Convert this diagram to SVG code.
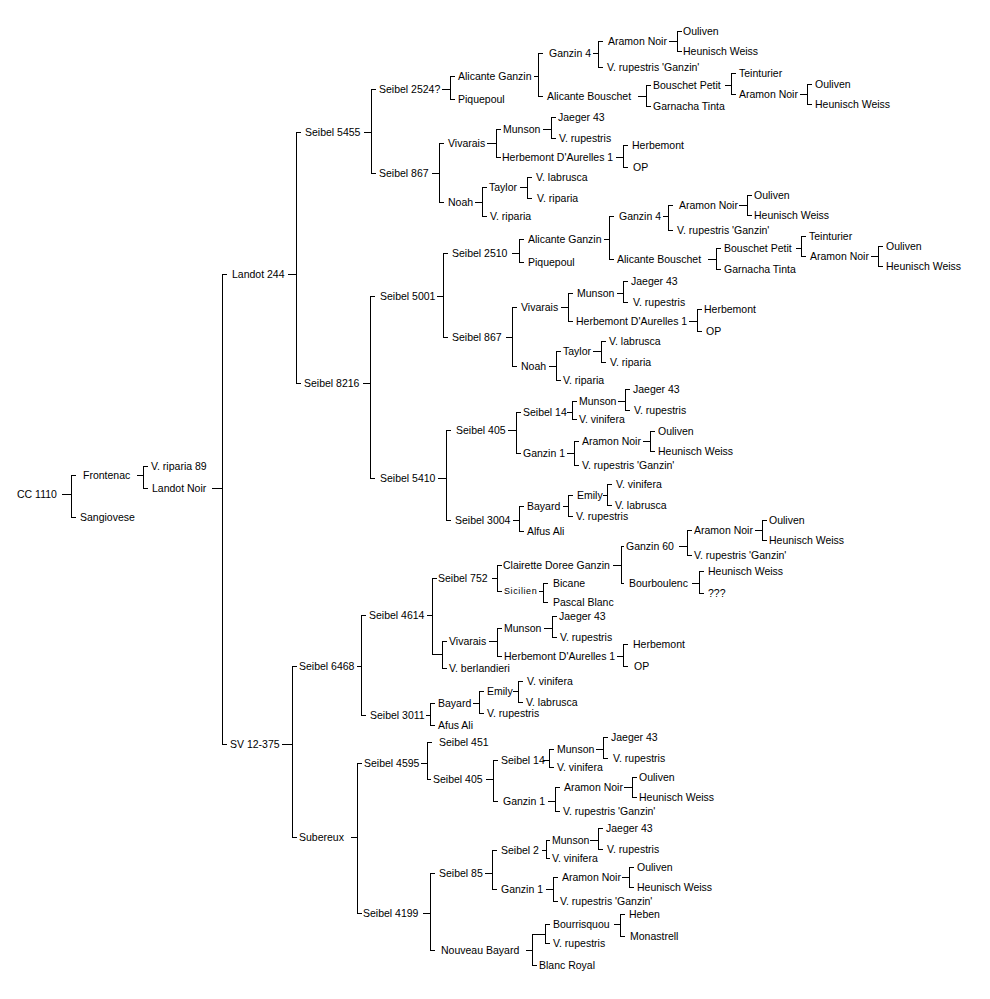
<svg xmlns="http://www.w3.org/2000/svg" width="990" height="999" viewBox="0 0 990 999">
<style>
text{font-family:"Liberation Sans",Arial,sans-serif;font-size:10.5px;fill:#000}
.sm{font-size:9px;letter-spacing:0.6px}
#connectors path{fill:none;stroke:#000;stroke-width:1;shape-rendering:crispEdges}
</style>
<rect width="990" height="999" fill="#fff"/>
<g id="connectors">
<path d="M62,494H71M76,475H71V517H76"/>
<path d="M137,475H143M148,466H143V488H148"/>
<path d="M212,488H222M227,274H222V744H227"/>
<path d="M288,274H296M301,132H296V383H301"/>
<path d="M364,132H371M376,89H371V173H376"/>
<path d="M442,89H450M455,76H450V99H455"/>
<path d="M534,76H538M543,53H538V96H543"/>
<path d="M593,53H598M603,41H598V67H603"/>
<path d="M669,41H677M682,31H677V51H682"/>
<path d="M638,96H646M651,85H646V106H651"/>
<path d="M725,85H731M736,73H731V94H736"/>
<path d="M800,94H807M812,84H807V104H812"/>
<path d="M432,173H439M444,143H439V202H444"/>
<path d="M487,143H496M501,129H496V157H501"/>
<path d="M543,129H551M556,117H551V138H556"/>
<path d="M616,157H623M628,145H623V167H628"/>
<path d="M475,202H482M487,187H482V216H487"/>
<path d="M520,187H527M532,177H527V198H532"/>
<path d="M363,383H370M375,296H370V478H375"/>
<path d="M437,296H443M448,253H443V337H448"/>
<path d="M512,253H519M524,239H519V262H524"/>
<path d="M604,239H609M614,216H609V259H614"/>
<path d="M663,216H668M673,205H668V230H673"/>
<path d="M739,205H747M752,195H747V215H752"/>
<path d="M708,259H716M721,248H716V269H721"/>
<path d="M796,248H801M806,236H801V256H806"/>
<path d="M871,256H878M883,246H878V266H883"/>
<path d="M506,337H512M517,307H512V366H517"/>
<path d="M561,307H568M573,293H568V321H573"/>
<path d="M617,293H623M628,281H623V302H628"/>
<path d="M689,321H697M702,309H697V331H702"/>
<path d="M549,366H556M561,351H556V380H561"/>
<path d="M593,351H601M606,341H601V362H606"/>
<path d="M438,478H446M451,430H446V520H451"/>
<path d="M508,430H516M521,412H516V453H521"/>
<path d="M567,412H572M577,401H572V419H577"/>
<path d="M618,401H625M630,389H625V410H630"/>
<path d="M567,453H574M579,441H574V465H579"/>
<path d="M643,441H650M655,431H650V451H655"/>
<path d="M513,520H519M524,506H519V531H524"/>
<path d="M563,506H568M573,495H568V516H573"/>
<path d="M603,495H607M612,484H607V505H612"/>
<path d="M282,744H292M297,666H292V837H297"/>
<path d="M357,666H361M366,615H361V715H366"/>
<path d="M427,615H432M437,578H432V654H442"/>
<path d="M447,641H442V668H447"/>
<path d="M492,578H497M502,565H497V591H502"/>
<path d="M613,565H621M624,546H621V583H624"/>
<path d="M679,546H687M692,530H687V555H692"/>
<path d="M755,530H762M767,520H762V540H767"/>
<path d="M692,583H699M704,571H699V593H704"/>
<path d="M539,591H543M548,583H543V602H548"/>
<path d="M489,641H497M502,628H497V656H502"/>
<path d="M544,628H552M557,616H552V637H557"/>
<path d="M617,656H623M628,644H623V666H628"/>
<path d="M426,715H430M435,703H430V725H435"/>
<path d="M473,703H479M484,691H479V713H484"/>
<path d="M513,691H518M523,681H518V702H523"/>
<path d="M351,837H357M362,763H357V913H362"/>
<path d="M421,763H427M432,742H427V779H431"/>
<path d="M486,779H493M498,760H493V801H498"/>
<path d="M543,760H549M554,749H549V767H554"/>
<path d="M596,749H603M608,737H603V758H608"/>
<path d="M548,801H555M560,787H555V811H560"/>
<path d="M624,787H632M637,777H632V797H637"/>
<path d="M423,913H430M435,873H430V950H435"/>
<path d="M485,873H492M497,850H492V889H497"/>
<path d="M542,850H546M550,840H546V858H550"/>
<path d="M590,840H598M603,828H598V849H603"/>
<path d="M546,889H553M558,877H553V901H558"/>
<path d="M622,877H629M634,867H629V887H634"/>
<path d="M526,950H532M545,934H532V965H537"/>
<path d="M550,924H545V943H550"/>
<path d="M614,924H620M625,914H620V936H625"/>
</g>
<g id="n-cc1110"><text x="17" y="498">CC 1110</text></g>
<g id="n-frontenac"><text x="83" y="479">Frontenac</text></g>
<g id="n-sangiovese"><text x="80" y="521">Sangiovese</text></g>
<g id="n-vriparia89"><text x="151" y="470">V. riparia 89</text></g>
<g id="n-landotnoir"><text x="152" y="492">Landot Noir</text></g>
<g id="n-landot244"><text x="232" y="278">Landot 244</text></g>
<g id="n-sv12375"><text x="230" y="748">SV 12-375</text></g>
<g id="n-seibel5455"><text x="305" y="136">Seibel 5455</text></g>
<g id="n-seibel2524"><text x="379" y="93">Seibel 2524?</text></g>
<g id="n-alicanteganzin-a"><text x="458" y="80">Alicante Ganzin</text></g>
<g id="n-piquepoul-a"><text x="458" y="103">Piquepoul</text></g>
<g id="n-ganzin4-a"><text x="549" y="57">Ganzin 4</text></g>
<g id="n-aramonnoir-a"><text x="608" y="45">Aramon Noir</text></g>
<g id="n-ouliven-a"><text x="683" y="35">Ouliven</text></g>
<g id="n-heunisch-a"><text x="683" y="55">Heunisch Weiss</text></g>
<g id="n-vrupganzin-a"><text x="607" y="71">V. rupestris 'Ganzin'</text></g>
<g id="n-alicantebouschet-a"><text x="547" y="100">Alicante Bouschet</text></g>
<g id="n-bouschetpetit-a"><text x="653" y="89">Bouschet Petit</text></g>
<g id="n-teinturier-a"><text x="739" y="77">Teinturier</text></g>
<g id="n-aramonnoir-b"><text x="739" y="98">Aramon Noir</text></g>
<g id="n-ouliven-b"><text x="815" y="88">Ouliven</text></g>
<g id="n-heunisch-b"><text x="815" y="108">Heunisch Weiss</text></g>
<g id="n-garnacha-a"><text x="653" y="110">Garnacha Tinta</text></g>
<g id="n-seibel867-a"><text x="379" y="177">Seibel 867</text></g>
<g id="n-vivarais-a"><text x="448" y="147">Vivarais</text></g>
<g id="n-munson-a"><text x="503" y="133">Munson</text></g>
<g id="n-jaeger-a"><text x="558" y="121">Jaeger 43</text></g>
<g id="n-vrup-a"><text x="559" y="142">V. rupestris</text></g>
<g id="n-herbda-a"><text x="502" y="161">Herbemont D'Aurelles 1</text></g>
<g id="n-herbemont-a"><text x="632" y="149">Herbemont</text></g>
<g id="n-op-a"><text x="633" y="171">OP</text></g>
<g id="n-noah-a"><text x="448" y="206">Noah</text></g>
<g id="n-taylor-a"><text x="489" y="191">Taylor</text></g>
<g id="n-vlab-a"><text x="536" y="181">V. labrusca</text></g>
<g id="n-vrip-a"><text x="537" y="202">V. riparia</text></g>
<g id="n-vrip-b"><text x="490" y="220">V. riparia</text></g>
<g id="n-seibel8216"><text x="304" y="387">Seibel 8216</text></g>
<g id="n-seibel5001"><text x="380" y="300">Seibel 5001</text></g>
<g id="n-seibel2510"><text x="452" y="257">Seibel 2510</text></g>
<g id="n-alicanteganzin-b"><text x="528" y="243">Alicante Ganzin</text></g>
<g id="n-piquepoul-b"><text x="528" y="266">Piquepoul</text></g>
<g id="n-ganzin4-b"><text x="619" y="220">Ganzin 4</text></g>
<g id="n-aramonnoir-c"><text x="679" y="209">Aramon Noir</text></g>
<g id="n-ouliven-c"><text x="754" y="199">Ouliven</text></g>
<g id="n-heunisch-c"><text x="754" y="219">Heunisch Weiss</text></g>
<g id="n-vrupganzin-b"><text x="677" y="234">V. rupestris 'Ganzin'</text></g>
<g id="n-alicantebouschet-b"><text x="617" y="263">Alicante Bouschet</text></g>
<g id="n-bouschetpetit-b"><text x="724" y="252">Bouschet Petit</text></g>
<g id="n-teinturier-b"><text x="809" y="240">Teinturier</text></g>
<g id="n-aramonnoir-d"><text x="810" y="260">Aramon Noir</text></g>
<g id="n-ouliven-d"><text x="886" y="250">Ouliven</text></g>
<g id="n-heunisch-d"><text x="886" y="270">Heunisch Weiss</text></g>
<g id="n-garnacha-b"><text x="724" y="273">Garnacha Tinta</text></g>
<g id="n-seibel867-b"><text x="452" y="341">Seibel 867</text></g>
<g id="n-vivarais-b"><text x="521" y="311">Vivarais</text></g>
<g id="n-munson-b"><text x="577" y="297">Munson</text></g>
<g id="n-jaeger-b"><text x="631" y="285">Jaeger 43</text></g>
<g id="n-vrup-b"><text x="633" y="306">V. rupestris</text></g>
<g id="n-herbda-b"><text x="576" y="325">Herbemont D'Aurelles 1</text></g>
<g id="n-herbemont-b"><text x="704" y="313">Herbemont</text></g>
<g id="n-op-b"><text x="706" y="335">OP</text></g>
<g id="n-noah-b"><text x="521" y="370">Noah</text></g>
<g id="n-taylor-b"><text x="563" y="355">Taylor</text></g>
<g id="n-vlab-b"><text x="609" y="345">V. labrusca</text></g>
<g id="n-vrip-c"><text x="610" y="366">V. riparia</text></g>
<g id="n-vrip-d"><text x="563" y="384">V. riparia</text></g>
<g id="n-seibel5410"><text x="380" y="482">Seibel 5410</text></g>
<g id="n-seibel405-a"><text x="456" y="434">Seibel 405</text></g>
<g id="n-seibel14-a"><text x="523" y="416">Seibel 14</text></g>
<g id="n-munson-c"><text x="579" y="405">Munson</text></g>
<g id="n-jaeger-c"><text x="633" y="393">Jaeger 43</text></g>
<g id="n-vrup-c"><text x="634" y="414">V. rupestris</text></g>
<g id="n-vvin-a"><text x="579" y="423">V. vinifera</text></g>
<g id="n-ganzin1-a"><text x="523" y="457">Ganzin 1</text></g>
<g id="n-aramonnoir-e"><text x="582" y="445">Aramon Noir</text></g>
<g id="n-ouliven-e"><text x="658" y="435">Ouliven</text></g>
<g id="n-heunisch-e"><text x="658" y="455">Heunisch Weiss</text></g>
<g id="n-vrupganzin-c"><text x="582" y="469">V. rupestris 'Ganzin'</text></g>
<g id="n-seibel3004"><text x="455" y="524">Seibel 3004</text></g>
<g id="n-bayard-a"><text x="527" y="510">Bayard</text></g>
<g id="n-emily-a"><text x="577" y="499">Emily</text></g>
<g id="n-vvin-b"><text x="616" y="488">V. vinifera</text></g>
<g id="n-vlab-c"><text x="615" y="509">V. labrusca</text></g>
<g id="n-vrup-d"><text x="576" y="520">V. rupestris</text></g>
<g id="n-alfusali-a"><text x="527" y="535">Alfus Ali</text></g>
<g id="n-seibel6468"><text x="299" y="670">Seibel 6468</text></g>
<g id="n-seibel4614"><text x="369" y="619">Seibel 4614</text></g>
<g id="n-seibel752"><text x="438" y="582">Seibel 752</text></g>
<g id="n-clairette"><text x="503" y="569">Clairette Doree Ganzin</text></g>
<g id="n-ganzin60"><text x="626" y="550">Ganzin 60</text></g>
<g id="n-aramonnoir-f"><text x="694" y="534">Aramon Noir</text></g>
<g id="n-ouliven-f"><text x="769" y="524">Ouliven</text></g>
<g id="n-heunisch-f"><text x="769" y="544">Heunisch Weiss</text></g>
<g id="n-vrupganzin-d"><text x="694" y="559">V. rupestris 'Ganzin'</text></g>
<g id="n-bourboulenc"><text x="629" y="587">Bourboulenc</text></g>
<g id="n-heunisch-g"><text x="708" y="575">Heunisch Weiss</text></g>
<g id="n-unknown"><text x="708" y="597">???</text></g>
<g id="n-sicilien"><text class="sm" x="504" y="594">Sicilien</text></g>
<g id="n-bicane"><text x="553" y="587">Bicane</text></g>
<g id="n-pascalblanc"><text x="553" y="606">Pascal Blanc</text></g>
<g id="n-vivarais-c"><text x="449" y="645">Vivarais</text></g>
<g id="n-munson-d"><text x="504" y="632">Munson</text></g>
<g id="n-jaeger-d"><text x="559" y="620">Jaeger 43</text></g>
<g id="n-vrup-e"><text x="560" y="641">V. rupestris</text></g>
<g id="n-herbda-c"><text x="504" y="660">Herbemont D'Aurelles 1</text></g>
<g id="n-herbemont-c"><text x="633" y="648">Herbemont</text></g>
<g id="n-op-c"><text x="634" y="670">OP</text></g>
<g id="n-vberlandieri"><text x="449" y="672">V. berlandieri</text></g>
<g id="n-seibel3011"><text x="370" y="719">Seibel 3011</text></g>
<g id="n-bayard-b"><text x="438" y="707">Bayard</text></g>
<g id="n-emily-b"><text x="487" y="695">Emily</text></g>
<g id="n-vvin-c"><text x="527" y="685">V. vinifera</text></g>
<g id="n-vlab-d"><text x="526" y="706">V. labrusca</text></g>
<g id="n-vrup-f"><text x="487" y="717">V. rupestris</text></g>
<g id="n-alfusali-b"><text x="438" y="729">Afus Ali</text></g>
<g id="n-subereux"><text x="299" y="841">Subereux</text></g>
<g id="n-seibel4595"><text x="364" y="767">Seibel 4595</text></g>
<g id="n-seibel451"><text x="439" y="746">Seibel 451</text></g>
<g id="n-seibel405-b"><text x="433" y="783">Seibel 405</text></g>
<g id="n-seibel14-b"><text x="501" y="764">Seibel 14</text></g>
<g id="n-munson-e"><text x="557" y="753">Munson</text></g>
<g id="n-jaeger-e"><text x="611" y="741">Jaeger 43</text></g>
<g id="n-vrup-g"><text x="613" y="762">V. rupestris</text></g>
<g id="n-vvin-d"><text x="557" y="771">V. vinifera</text></g>
<g id="n-ganzin1-b"><text x="503" y="805">Ganzin 1</text></g>
<g id="n-aramonnoir-g"><text x="564" y="791">Aramon Noir</text></g>
<g id="n-ouliven-g"><text x="639" y="781">Ouliven</text></g>
<g id="n-heunisch-h"><text x="639" y="801">Heunisch Weiss</text></g>
<g id="n-vrupganzin-e"><text x="563" y="815">V. rupestris 'Ganzin'</text></g>
<g id="n-seibel4199"><text x="363" y="917">Seibel 4199</text></g>
<g id="n-seibel85"><text x="439" y="877">Seibel 85</text></g>
<g id="n-seibel2"><text x="501" y="854">Seibel 2</text></g>
<g id="n-munson-f"><text x="552" y="844">Munson</text></g>
<g id="n-jaeger-f"><text x="606" y="832">Jaeger 43</text></g>
<g id="n-vrup-h"><text x="607" y="853">V. rupestris</text></g>
<g id="n-vvin-e"><text x="552" y="862">V. vinifera</text></g>
<g id="n-ganzin1-c"><text x="501" y="893">Ganzin 1</text></g>
<g id="n-aramonnoir-h"><text x="562" y="881">Aramon Noir</text></g>
<g id="n-ouliven-h"><text x="637" y="871">Ouliven</text></g>
<g id="n-heunisch-i"><text x="637" y="891">Heunisch Weiss</text></g>
<g id="n-vrupganzin-f"><text x="560" y="905">V. rupestris 'Ganzin'</text></g>
<g id="n-nouveaubayard"><text x="441" y="954">Nouveau Bayard</text></g>
<g id="n-bourrisquou"><text x="553" y="928">Bourrisquou</text></g>
<g id="n-heben"><text x="629" y="918">Heben</text></g>
<g id="n-monastrell"><text x="630" y="940">Monastrell</text></g>
<g id="n-vrup-i"><text x="553" y="947">V. rupestris</text></g>
<g id="n-blancroyal"><text x="539" y="969">Blanc Royal</text></g>
</svg>
